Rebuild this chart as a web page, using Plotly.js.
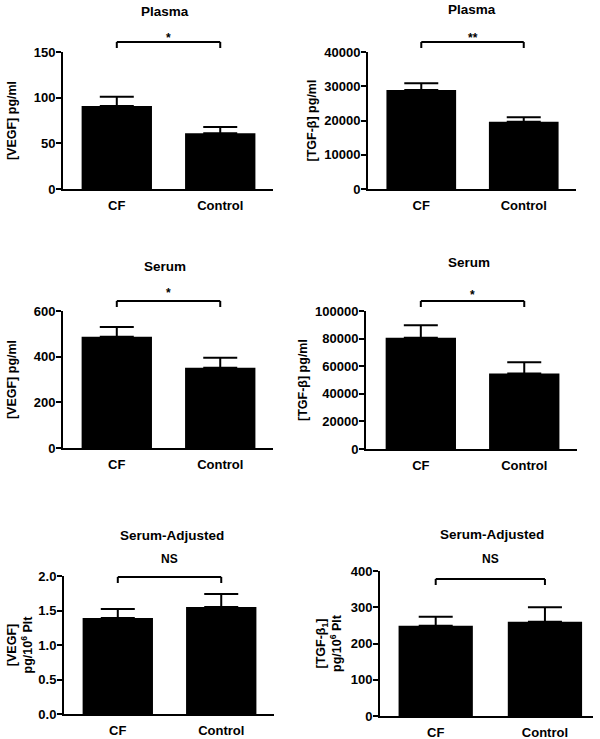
<!DOCTYPE html>
<html><head><meta charset="utf-8">
<script src="https://cdn.plot.ly/plotly-3.0.1.min.js"></script>
<style>html,body{margin:0;padding:0;background:#fff}#chart{width:600px;height:739px}</style>
</head><body><div id="chart"></div>
<script>
// ---- data ----
const categories = ['CF', 'Control'];
const plasmaVegf = [91, 61];
const plasmaVegfSem = [10, 7];
const plasmaTgf = [28900, 19650];
const plasmaTgfSem = [2000, 1300];
const serumVegf = [487, 351];
const serumVegfSem = [43, 44];
const serumTgf = [80700, 54700];
const serumTgfSem = [9000, 8200];
const adjVegf = [1.39, 1.55];
const adjVegfSem = [0.13, 0.19];
const adjTgf = [249, 260];
const adjTgfSem = [25, 40];
const sigLabels = ['*', '**', '*', '*', 'NS', 'NS'];
const panelTitles = ['Plasma', 'Plasma', 'Serum', 'Serum', 'Serum-Adjusted', 'Serum-Adjusted'];
const yTitles = ['[VEGF] pg/ml', '[TGF-β] pg/ml', '[VEGF] pg/ml', '[TGF-β] pg/ml',
  '[VEGF]<br>pg/10<sup>6</sup> Plt', '[TGF-β<sub>1</sub>]<br>pg/10<sup>6</sup> Plt'];
const yTicks = [[0, 50, 100, 150], [0, 10000, 20000, 30000, 40000], [0, 200, 400, 600],
  [0, 20000, 40000, 60000, 80000, 100000], [0, 0.5, 1, 1.5, 2], [0, 100, 200, 300, 400]];

// ---- layout geometry (px) ----
const W = 600, H = 739;
const FONT = 'Liberation Sans, Arial, Helvetica, sans-serif';
const panels = [
  {y: plasmaVegf, e: plasmaVegfSem, box: [63, 273, 52, 189], xr: [-0.52, 1.51], fmt: '.0f', br: 10, sOff: 4, tOff: 41, tdx: -4, stand: 14},
  {y: plasmaTgf, e: plasmaTgfSem, box: [368, 576, 52, 189], xr: [-0.52, 1.51], fmt: 'd', br: 10, sOff: 4, tOff: 43, tdx: -1, stand: 5},
  {y: serumVegf, e: serumVegfSem, box: [63, 273, 311, 448], xr: [-0.52, 1.51], fmt: '.0f', br: 10, sOff: 8, tOff: 45, tdx: -4, stand: 14},
  {y: serumTgf, e: serumTgfSem, box: [366, 577, 311, 449], xr: [-0.53, 1.51], fmt: 'd', br: 10, sOff: 6, tOff: 49, tdx: -4, stand: 5},
  {y: adjVegf, e: adjVegfSem, box: [64, 274, 576, 714], xr: [-0.52, 1.51], fmt: '.1f', br: -1, sOff: 18, tOff: 41, tdx: 2, stand: 3},
  {y: adjTgf, e: adjTgfSem, box: [380, 593, 571, 716], xr: [-0.51, 1.44], fmt: '.0f', br: -8, sOff: 20, tOff: 37, tdx: 2, stand: 6}
];

const data = [];
const layout = {
  width: W, height: H, margin: {l: 0, r: 0, t: 0, b: 0},
  paper_bgcolor: '#fff', plot_bgcolor: '#fff', showlegend: false,
  font: {family: FONT, color: '#000', size: 13, weight: 'bold'},
  shapes: [], annotations: []
};

panels.forEach((p, i) => {
  const n = i + 1;
  const xa = n === 1 ? 'x' : 'x' + n, ya = n === 1 ? 'y' : 'y' + n;
  const xk = n === 1 ? 'xaxis' : 'xaxis' + n, yk = n === 1 ? 'yaxis' : 'yaxis' + n;
  const [x0, x1, yTop, yBot] = p.box;
  const hpx = yBot - yTop;
  const ticks = yTicks[i];
  data.push({
    type: 'bar', x: categories, y: p.y, xaxis: xa, yaxis: ya, width: 0.68,
    marker: {color: '#000', line: {width: 0}},
    error_y: {type: 'data', symmetric: false, array: p.e, arrayminus: categories.map(() => 0),
      color: '#000', thickness: 2, width: 17},
    hoverinfo: 'skip'
  });
  layout[xk] = {
    domain: [x0 / W, x1 / W], anchor: ya, range: p.xr, type: 'category',
    showline: true, linecolor: '#000', linewidth: 2, ticks: '', showgrid: false, zeroline: false,
    tickfont: {family: FONT, size: 13, color: '#000', weight: 'bold'}, ticklabelstandoff: 3, fixedrange: true
  };
  layout[yk] = {
    domain: [1 - yBot / H, 1 - yTop / H], anchor: xa, range: [ticks[0], ticks[ticks.length - 1]],
    tickvals: ticks, tickformat: p.fmt,
    showline: true, linecolor: '#000', linewidth: 2, ticks: 'outside', ticklen: 5, tickwidth: 2, tickcolor: '#000',
    showgrid: false, zeroline: false, fixedrange: true, ticklabelstandoff: -2,
    tickfont: {family: FONT, size: 13, color: '#000', weight: 'bold'},
    title: {text: yTitles[i], standoff: p.stand, font: {family: FONT, size: 12.5, color: '#000', weight: 'bold'}}
  };
  // significance bracket
  const fx = c => (c - p.xr[0]) / (p.xr[1] - p.xr[0]);
  const yb = 1 + p.br / hpx, yt = yb - 6 / hpx;
  const xd = xa + ' domain', yd = ya + ' domain';
  const ln = {color: '#000', width: 2};
  layout.shapes.push({type: 'line', xref: xd, yref: yd, x0: fx(0), x1: fx(1), y0: yb, y1: yb, line: ln});
  layout.shapes.push({type: 'line', xref: xd, yref: yd, x0: fx(0), x1: fx(0), y0: yb, y1: yt, line: ln});
  layout.shapes.push({type: 'line', xref: xd, yref: yd, x0: fx(1), x1: fx(1), y0: yb, y1: yt, line: ln});
  layout.annotations.push({xref: xd, yref: yd, x: fx(0.5), y: yb, yanchor: 'middle', yshift: p.sOff,
    text: sigLabels[i], showarrow: false, font: {family: FONT, size: 12, color: '#000', weight: 'bold'}});
  layout.annotations.push({xref: xd, yref: yd, x: fx(0.5), y: 1, xshift: p.tdx, yanchor: 'middle', yshift: p.tOff,
    text: panelTitles[i], showarrow: false, font: {family: FONT, size: 13.5, color: '#000', weight: 'bold'}});
});

Plotly.newPlot('chart', data, layout, {staticPlot: true, displayModeBar: false});
</script>
</body></html>
